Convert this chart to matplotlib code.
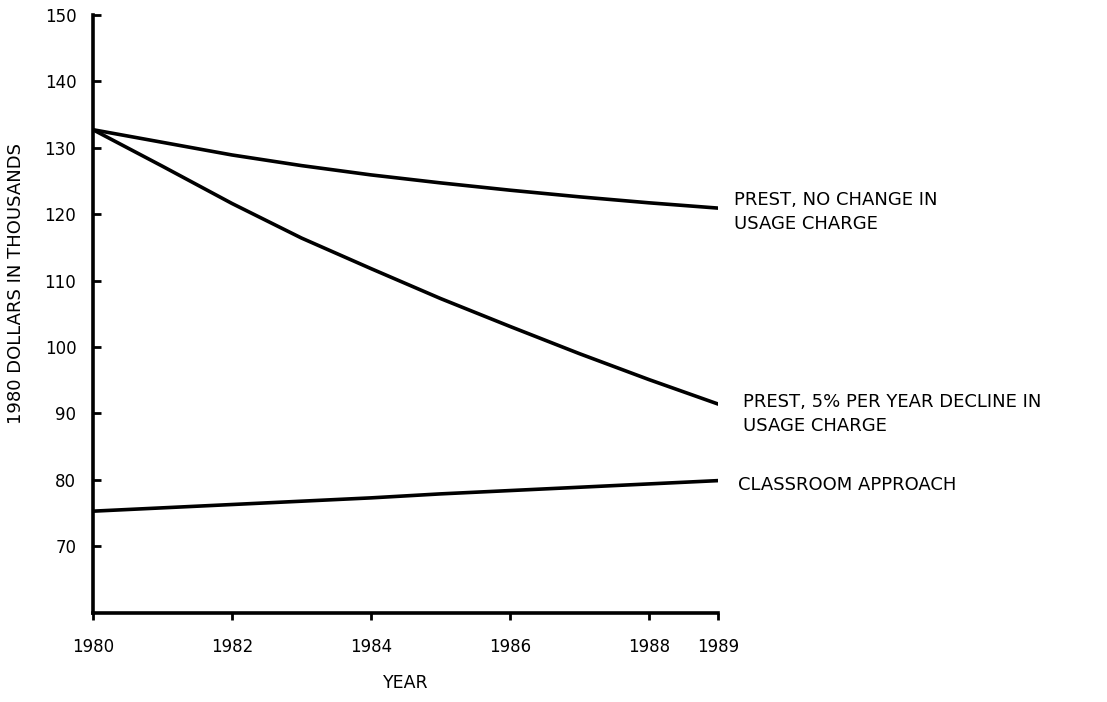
import matplotlib
matplotlib.use('Agg')
import matplotlib.pyplot as plt
from matplotlib.ticker import FixedLocator

#-----------------------------------------
#--- Data
#-----------------------------------------
years = [1980, 1981, 1982, 1983, 1984, 1985, 1986, 1987, 1988, 1989]
prest_no_change = [132.7, 130.8, 128.9, 127.3, 125.9, 124.7, 123.6, 122.6, 121.7, 120.9]
prest_decline = [132.7, 127.2, 121.6, 116.4, 111.8, 107.3, 103.1, 99.0, 95.1, 91.4]
classroom = [75.3, 75.8, 76.3, 76.8, 77.3, 77.9, 78.4, 78.9, 79.4, 79.9]

labels = ['PREST, NO CHANGE IN\nUSAGE CHARGE',
          'PREST, 5% PER YEAR DECLINE IN\nUSAGE CHARGE',
          'CLASSROOM APPROACH']

xticks = [1980, 1982, 1984, 1986, 1988, 1989]
yticks = [70, 80, 90, 100, 110, 120, 130, 140, 150]

plt.rcParams['font.family'] = ['DejaVu Sans']

fig = plt.figure(figsize=(11.07, 7.02), dpi=100)
ax = fig.add_axes([0.084, 0.127, 0.565, 0.852])

for series in (prest_no_change, prest_decline, classroom):
    ax.plot(years, series, color='black', lw=2.6, solid_capstyle='round')

ax.set_xlim(1980, 1989)
ax.set_ylim(60, 150)

ax.spines['top'].set_visible(False)
ax.spines['right'].set_visible(False)
ax.spines['left'].set_linewidth(2.6)
ax.spines['bottom'].set_linewidth(2.6)

ax.xaxis.set_major_locator(FixedLocator(xticks))
ax.yaxis.set_major_locator(FixedLocator(yticks))
ax.tick_params(axis='x', direction='out', length=5, width=2, labelsize=12, pad=13)
ax.tick_params(axis='y', direction='in', length=6, width=2, labelsize=12, pad=12)

ax.set_xlabel('YEAR', fontsize=12.5)
ax.xaxis.set_label_coords(0.5, -0.103)
ax.set_ylabel('1980 DOLLARS IN THOUSANDS', fontsize=13)
ax.yaxis.set_label_coords(-0.108, 0.55)

# line labels to the right of the end points
offsets = [(11, -3), (18, -7), (14, -3)]
for series, lab, off in zip((prest_no_change, prest_decline, classroom), labels, offsets):
    ax.annotate(lab, xy=(years[-1], series[-1]), xytext=off,
                textcoords='offset points', fontsize=13, va='center',
                ha='left', linespacing=1.4, annotation_clip=False)

fig.savefig('out.png', dpi=100)
